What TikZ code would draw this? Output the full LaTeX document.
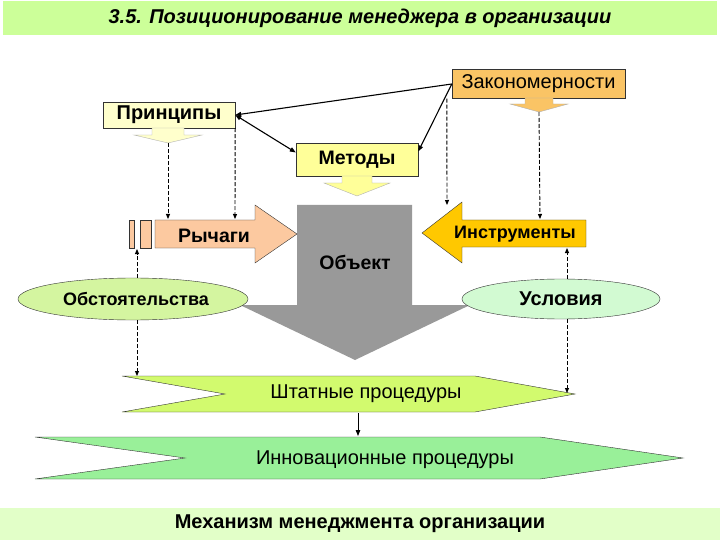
\documentclass[tikz,border=0pt]{standalone}
\usepackage{fontspec}
\setmainfont{Liberation Sans}
\usetikzlibrary{shapes.geometric,arrows.meta}
\definecolor{titlebg}{HTML}{CCFF99}
\definecolor{footbg}{HTML}{E2FFC8}
\definecolor{zakfill}{HTML}{FAC465}
\definecolor{prinfill}{HTML}{FFFFCC}
\definecolor{metfill}{HTML}{FFFF99}
\definecolor{rychfill}{HTML}{FCC9A0}
\definecolor{instfill}{HTML}{FFC800}
\definecolor{objfill}{HTML}{999999}
\definecolor{obsfill}{HTML}{D4F5A0}
\definecolor{uslfill}{HTML}{D2FAD2}
\definecolor{shtfill}{HTML}{D2FA6E}
\definecolor{innfill}{HTML}{99F099}
\begin{document}
\begin{tikzpicture}[x=1pt,y=-1pt,
  box/.style={draw=black!80,inner sep=0pt},
  oval/.style={ellipse,draw=black!80,inner sep=0pt},
  bold/.style={font=\bfseries\fontsize{#1}{#1}\selectfont},
  bold/.default=19.5,
  plain/.style={font=\fontsize{20}{20}\selectfont},
  link/.style={line width=1.1pt,-{Triangle[length=6pt,width=4.5pt]}},
  dline/.style={dashed,dash pattern=on 4pt off 2pt,line width=0.9pt,-{Triangle[length=5pt,width=4pt]}}]
\useasboundingbox (0,0) rectangle (720,540);
\fill[titlebg] (3,1) rectangle (717,35);
\node[font=\bfseries\itshape\fontsize{20}{20}\selectfont] (title) at (360,18) {3.5. Позиционирование менеджера в организации};
\fill[footbg] (0,508) rectangle (720,540);
\node[bold=20] (mech) at (360,524) {Механизм менеджмента организации};

\node[box,fill=zakfill,minimum width=173,minimum height=29,plain] (zak) at (538.5,84) {Закономерности};
\node[box,fill=prinfill,minimum width=132,minimum height=26,bold=20] (prin) at (169,115) {Принципы};
\node[box,fill=metfill,minimum width=122,minimum height=33,bold] (met) at (357,159.5) {Методы};

\foreach \nm/\cx/\ya/\yb/\yc/\sw/\hw/\col in {pt/168/128/135/143/16/34/prinfill, mt/357/176/183/196/15/33/metfill, zt/539/98/104/112/14/29/zakfill}{
  \draw[fill=\col,draw=black!30] (\cx-\sw,\ya) -- (\cx+\sw,\ya) -- (\cx+\sw,\yb) -- (\cx+\hw,\yb) -- (\cx,\yc) -- (\cx-\hw,\yb) -- (\cx-\sw,\yb) -- cycle;
  \coordinate (\nm) at (\cx,\yc);
  }

\fill[objfill] (297,205) -- (412,205) -- (412,305) -- (470,305) -- (355,360) -- (240,305) -- (297,305) -- cycle;
\node[bold] (obj) at (355,262) {Объект};

\draw[fill=rychfill,draw=black!80] (155,220) -- (255,220) -- (255,205) -- (297,234) -- (255,263) -- (255,248) -- (155,248) -- cycle;
\draw[fill=rychfill,draw=black!80] (129,220) rectangle (134,248);
\draw[fill=rychfill,draw=black!80] (140,220) rectangle (151,248);
\node[bold] (ryc) at (214,236) {Рычаги};

\draw[fill=instfill,draw=black!80] (586,220) -- (462,220) -- (462,202) -- (422,233) -- (462,263) -- (462,247) -- (586,247) -- cycle;
\node[bold=18] (inst) at (515,234) {Инструменты};

\node[oval,fill=obsfill,minimum width=230,minimum height=42] (obs) at (133,299) {};
\node[bold=18] (obst) at (136,299) {Обстоятельства};
\node[oval,fill=uslfill,minimum width=198,minimum height=40,bold=20] (usl) at (561,299) {Условия};

\draw[fill=shtfill,draw=black!80] (122,376) -- (475,376) -- (575,394) -- (475,412) -- (122,412) -- (225,394) -- cycle;
\node[plain] (sht) at (366,394) {Штатные процедуры};
\draw[fill=innfill,draw=black!80] (35,437) -- (540,437) -- (683,458) -- (540,479) -- (35,479) -- (185,458) -- cycle;
\node[plain] (inn) at (385,460) {Инновационные процедуры};

\coordinate (r0) at (137,249);
\coordinate (r1) at (168,219);
\coordinate (r2) at (235,219);
\coordinate (i1) at (447,205);
\coordinate (i2) at (540,219);
\coordinate (i3) at (567,248);
\coordinate (s1) at (137,376);
\coordinate (s2) at (567,393);
\coordinate (shtb) at (358,413);
\coordinate (innt) at (358,436);

\draw[link] (zak.west) -- (prin.east);
\draw[link,{Triangle[length=6pt,width=4.5pt]}-{Triangle[length=6pt,width=4.5pt]}] (prin.east) -- ([yshift=7pt]met.west);
\draw[link] (zak.west) -- ([yshift=8pt]met.east);

\draw[dline] (pt) -- (r1);
\draw[dline] (prin.south east) -- (r2);
\draw[dline] ([xshift=-5pt]zak.south west) -- (i1);
\draw[dline] (zt) -- (i2);
\draw[dline] ([xshift=4pt]obs.north) -- (r0);
\draw[dline] ([xshift=6pt]usl.north) -- (i3);
\draw[dline] ([xshift=4pt]obs.south) -- (s1);
\draw[dline] ([xshift=6pt]usl.south) -- (s2);
\draw[link,line width=0.8pt] (shtb) -- (innt);
\end{tikzpicture}
\end{document}
